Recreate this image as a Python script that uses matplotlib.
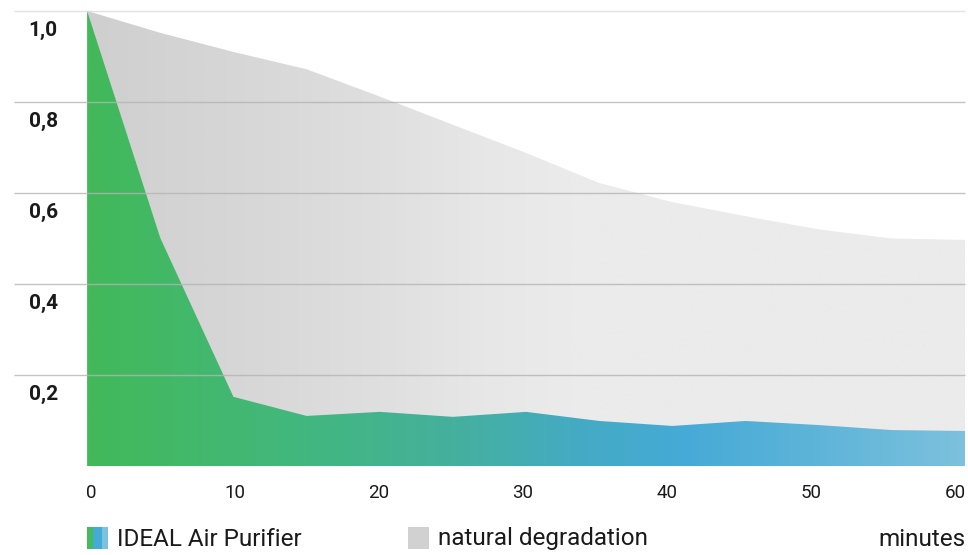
import numpy as np
import matplotlib
matplotlib.use("Agg")
import matplotlib.pyplot as plt
from matplotlib.colors import LinearSegmentedColormap
from matplotlib.patches import Rectangle

# ---- data ----
minutes = [0, 5, 10, 15, 20, 25, 30, 35, 40, 45, 50, 55, 60]
natural = [1.0, 0.952, 0.910, 0.872, 0.812, 0.750, 0.688, 0.622, 0.580, 0.549, 0.520, 0.500, 0.497]
ideal = [1.0, 0.501, 0.152, 0.110, 0.119, 0.108, 0.119, 0.099, 0.088, 0.099, 0.090, 0.079, 0.077]
y_ticks = [0.2, 0.4, 0.6, 0.8, 1.0]
y_tick_labels = ["0,2", "0,4", "0,6", "0,8", "1,0"]
x_ticks = [0, 10, 20, 30, 40, 50, 60]
legend_labels = ["IDEAL Air Purifier", "natural degradation"]
axis_unit = "minutes"

W, H = 968, 555
plt.rcParams['font.family'] = ['Roboto', 'DejaVu Sans']
fig = plt.figure(figsize=(W / 100, H / 100), dpi=100)
fig.patch.set_facecolor("white")

def fx(px):
    return px / W

def fy(py):
    return 1 - py / H

ax = fig.add_axes([fx(14), fy(466), fx(965) - fx(14), fy(11) - fy(466)])
ax.set_xlim(-5, 60)
ax.set_ylim(0, 1.0)
ax.axis("off")

# gray gradient area (natural degradation)
gray_cmap = LinearSegmentedColormap.from_list(
    "g", [(0.0, "#cfcfcf"), (0.2, "#d8d8d8"), (0.35, "#e0e0e0"), (0.45, "#e7e7e7"), (0.55, "#ebebeb"), (1.0, "#ebebeb")])
green_cmap = LinearSegmentedColormap.from_list(
    "b", [(0.0, "#43b95a"), (0.25, "#42b77f"), (0.42, "#45b09e"), (0.55, "#44abc2"),
          (0.68, "#46aad6"), (0.83, "#5db4d9"), (1.0, "#7cc1dd")])

grad = np.linspace(0, 1, 400).reshape(1, -1)

poly_n = ax.fill_between(minutes, 0, natural, color="none", lw=0)
im_n = ax.imshow(grad, cmap=gray_cmap, extent=[0, 60, 0, 1], aspect="auto", zorder=1,
                 interpolation="bilinear")
im_n.set_clip_path(poly_n.get_paths()[0], transform=ax.transData)

poly_i = ax.fill_between(minutes, 0, ideal, color="none", lw=0)
im_i = ax.imshow(grad, cmap=green_cmap, extent=[0, 60, 0, 1], aspect="auto", zorder=2,
                 interpolation="bilinear")
im_i.set_clip_path(poly_i.get_paths()[0], transform=ax.transData)

# grid lines
for v in y_ticks:
    col = "#dcdcdc" if v == 1.0 else "#b4b4b4"
    ax.hlines(v, -5, 60, colors=col, lw=1.0, alpha=0.8, zorder=3, clip_on=False)

# y labels (below each grid line)
for v, lab in zip(y_ticks, y_tick_labels):
    ax.text(-4.0, v - 0.043, lab, ha="left", va="center", fontsize=15,
            fontweight="bold", color="#1a1a1a")

# x labels (slightly compressed placement, as in the original)
for t in x_ticks:
    ax.text(0.27 + t * 0.984, -0.059, str(t), ha="center", va="center", fontsize=13.5,
            color="#1a1a1a")

# legend
sq_y0 = fy(549)
sq_h = fy(527) - fy(549)
fig.patches.append(Rectangle((fx(87), sq_y0), fx(93) - fx(87), sq_h, transform=fig.transFigure,
                             color="#45ba5e", lw=0))
fig.patches.append(Rectangle((fx(93), sq_y0), fx(102) - fx(93), sq_h, transform=fig.transFigure,
                             color="#45aad6", lw=0))
fig.patches.append(Rectangle((fx(102), sq_y0), fx(108) - fx(102), sq_h, transform=fig.transFigure,
                             color="#7cc1dd", lw=0))
fig.patches.append(Rectangle((fx(408), sq_y0), fx(429) - fx(408), sq_h, transform=fig.transFigure,
                             color="#d1d1d1", lw=0))
fig.text(fx(117), fy(539), legend_labels[0], ha="left", va="center", fontsize=17.5, color="#1a1a1a")
fig.text(fx(438), fy(539), legend_labels[1], ha="left", va="center", fontsize=17.5, color="#1a1a1a")
fig.text(fx(965), fy(539), axis_unit, ha="right", va="center", fontsize=17.5, color="#1a1a1a")

fig.savefig("out.png", dpi=100, facecolor="white")
